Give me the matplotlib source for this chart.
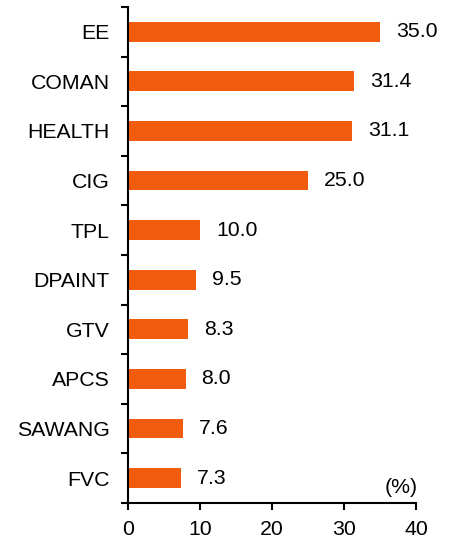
import matplotlib
matplotlib.use("Agg")
import matplotlib.pyplot as plt
from matplotlib.ticker import FixedLocator

categories = ["EE", "COMAN", "HEALTH", "CIG", "TPL", "DPAINT", "GTV", "APCS", "SAWANG", "FVC"]
values = [35.0, 31.4, 31.1, 25.0, 10.0, 9.5, 8.3, 8.0, 7.6, 7.3]
xticks = [0, 10, 20, 30, 40]

FS = 15.3
plt.rcParams['font.family'] = ['Liberation Sans', 'DejaVu Sans']
fig = plt.figure(figsize=(4.53, 5.39), dpi=100)
ax = fig.add_axes([0.2826, 0.067, 0.636, 0.92])

n = len(categories)
ypos = list(range(n))[::-1]
ax.barh(ypos, values, height=0.4, color="#F25C0F")
for y, v in zip(ypos, values):
    ax.text(v + 2.2, y, f"{v:.1f}", va="center", ha="left", fontsize=FS)

ax.set_xlim(0, 40)
ax.set_ylim(-0.5, n - 0.5)
ax.set_xticks(xticks)
ax.set_xticklabels([str(t) for t in xticks], fontsize=FS)
ax.set_yticks(ypos)
ax.set_yticklabels(categories, fontsize=FS)
ax.tick_params(axis='y', length=0, pad=13)
ax.yaxis.set_minor_locator(FixedLocator([i - 0.5 for i in range(n + 1)]))
ax.tick_params(axis='y', which='minor', length=5, width=1.5, direction='out')
ax.tick_params(axis='x', length=5, width=1.5, direction='out', pad=7.5)
for s in ['top', 'right']:
    ax.spines[s].set_visible(False)
for s in ['left', 'bottom']:
    ax.spines[s].set_linewidth(1.5)
ax.text(40.2, -0.38, "(%)", ha="right", va="bottom", fontsize=FS)

fig.savefig("out.png", dpi=100)
